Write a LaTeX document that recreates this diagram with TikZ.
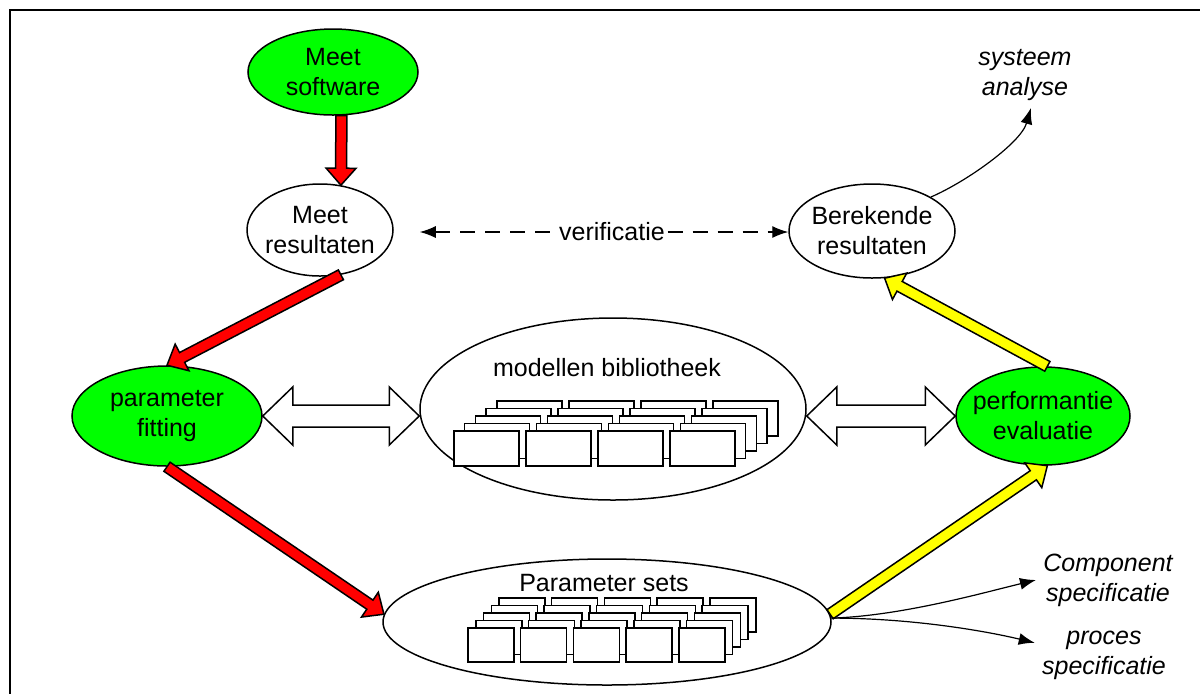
\documentclass[tikz,border=0pt]{standalone}
\usepackage{fontspec}
\setmainfont{Liberation Sans}
\usetikzlibrary{calc,arrows.meta,shapes.geometric}

\definecolor{groen}{RGB}{0,255,0}
\definecolor{rood}{RGB}{255,0,0}
\definecolor{geel}{RGB}{255,255,0}

% dikke pijl: kleur, van, naar
\newcommand{\dikkepijl}[3]{%
  \path (#2) coordinate (dp-a) (#3) coordinate (dp-b);
  \path ($(dp-b)!8.5pt!(dp-a)$) coordinate (dp-h);
  \draw[fill=#1] ($(dp-a)!2.75pt!90:(dp-b)$) -- ($(dp-h)!2.75pt!90:(dp-b)$)
    -- ($(dp-h)!7.5pt!90:(dp-b)$) -- (dp-b) -- ($(dp-h)!7.5pt!-90:(dp-b)$)
    -- ($(dp-h)!2.75pt!-90:(dp-b)$) -- ($(dp-a)!2.75pt!-90:(dp-b)$) -- cycle;
}
% holle dubbele pijl (horizontaal)
\newcommand{\dubbelpijl}[2]{%
  \path (#1) coordinate (dw-a) (#2) coordinate (dw-b);
  \draw[fill=white] (dw-a) -- ++(15pt,14.5pt) -- ++(0,-9pt) -- ($(dw-b)+(-15pt,5.5pt)$)
    -- ++(0,9pt) -- (dw-b) -- ++(-15pt,-14.5pt) -- ++(0,9pt)
    -- ($(dw-a)+(15pt,-5.5pt)$) -- ++(0,-9pt) -- cycle;
}

\begin{document}
\begin{tikzpicture}[x=0.5pt,y=-0.5pt,line width=0.75pt,
  font=\fontsize{12.5}{15}\selectfont,
  bol/.style={ellipse,draw,fill=white,inner sep=0pt},
  groenbol/.style={bol,fill=groen},
  kaart/.style={draw,fill=white},
  notitie/.style={align=center,font=\fontsize{12.5}{15}\selectfont\itshape},
  dunpijl/.style={-{Latex[length=8pt,width=6pt]},line width=0.6pt},
  verif/.style={dash pattern=on 7.5pt off 5pt,line width=0.6pt}]
\useasboundingbox (0,0) rectangle (1200,693);
% kader
\draw[line width=1pt] (9.5,9.5) rectangle (1230,720);

% ellipsen
\node[groenbol,minimum width=85pt,minimum height=43pt,
  label={[align=center]center:Meet\\software}] (msw) at (333,72) {};
\node[bol,minimum width=73pt,minimum height=46pt,
  label={[align=center]center:Meet\\resultaten}] (mres) at (320,230) {};
\node[bol,minimum width=83pt,minimum height=47pt,
  label={[align=center]center:Berekende\\resultaten}] (bres) at (872,231) {};
\node[groenbol,minimum width=95pt,minimum height=50pt,
  label={[align=center]center:parameter\\fitting}] (pfit) at (167,416) {};
\node[bol,minimum width=193pt,minimum height=91pt] (modl) at (613,409) {};
\node[groenbol,minimum width=87pt,minimum height=49pt,
  label={[align=center]center:performantie\\evaluatie}] (perf) at (1043,416) {};
\node[bol,minimum width=224pt,minimum height=63pt] (pset) at (607,622) {};

% teksten
\node (modltxt) at (607,368) {modellen bibliotheek};
\node (psettxt) at (604,583) {Parameter sets};
\node[notitie] (sys) at (1025,75) {systeem\\analyse};
\node[notitie] (comp) at (1108,580) {Component\\specificatie};
\node[notitie] (proc) at (1104,655) {proces\\specificatie};
\node[inner sep=1pt] (ver) at (612,232) {verificatie};

% bibliotheek kaarten
\foreach \l in {4,3,2,1,0}
  \foreach \c in {0,...,3}
    \draw[kaart] (454+72*\c+10.7*\l,431-7.5*\l) rectangle ++(65,35);
% parameter kaarten
\foreach \l in {4,3,2,1,0}
  \foreach \c in {0,...,4}
    \draw[kaart] (468+52.7*\c+7.75*\l,628-7.5*\l) rectangle ++(46,34);

% verificatie
\draw[verif,{Latex[length=8pt,width=6pt]}-,shorten <=13pt] (mres.east |- ver.west) -- (ver.west);
\draw[verif,-{Latex[length=8pt,width=6pt]}] (ver.east) -- (bres.west |- ver.east);

% rode pijlen
\dikkepijl{rood}{msw.-79}{mres.65}
\dikkepijl{rood}{mres.-65}{pfit.north}
\dikkepijl{rood}{pfit.south}{pset.178}
% gele pijlen
\dikkepijl{geel}{pset.2}{perf.-85}
\dikkepijl{geel}{perf.85}{bres.-75}

% dubbele pijlen
\dubbelpijl{pfit.east}{modl.west |- pfit.east}
\dubbelpijl{modl.east |- perf.west}{perf.west}

% dunne pijlen
\draw[dunpijl] (bres.30) .. controls +(35,-15) and +(-10,35) .. (sys.-80);
\draw[dunpijl] (pset.1) .. controls +(70,-2) and +(-50,12) .. (comp.west);
\draw[dunpijl] (pset.1) .. controls +(80,0) and +(-50,-12) .. (proc.170);
\end{tikzpicture}
\end{document}
